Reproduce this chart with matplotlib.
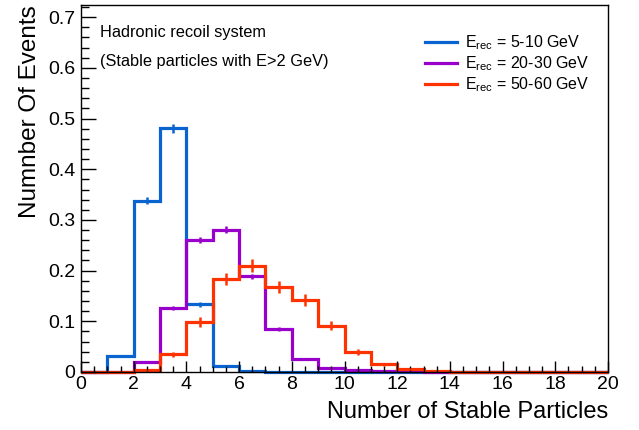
import numpy as np
import matplotlib
matplotlib.use("Agg")
import matplotlib.pyplot as plt
from matplotlib.ticker import MultipleLocator

plt.rcParams['font.family'] = ['Liberation Sans', 'DejaVu Sans']
plt.rcParams['mathtext.fontset'] = 'custom'
plt.rcParams['mathtext.rm'] = 'Liberation Sans'
plt.rcParams['mathtext.it'] = 'Liberation Sans:italic'

edges = np.arange(0, 21, 1)

blue_vals = [0, 0.032, 0.338, 0.481, 0.134, 0.011, 0.002, 0, 0, 0,
             0, 0, 0, 0, 0, 0, 0, 0, 0, 0]
blue_err = [0, 0.002, 0.007, 0.009, 0.005, 0.001, 0, 0, 0, 0,
            0, 0, 0, 0, 0, 0, 0, 0, 0, 0]

purple_vals = [0, 0, 0.019, 0.127, 0.260, 0.281, 0.189, 0.085, 0.026, 0.007,
               0.003, 0.001, 0.001, 0, 0, 0, 0, 0, 0, 0]
purple_err = [0, 0, 0.002, 0.004, 0.006, 0.007, 0.005, 0.004, 0.002, 0.001,
              0, 0, 0, 0, 0, 0, 0, 0, 0, 0]

red_vals = [0, 0, 0.003, 0.035, 0.099, 0.183, 0.210, 0.168, 0.142, 0.091,
            0.040, 0.015, 0.006, 0.002, 0, 0, 0, 0, 0, 0]
red_err = [0, 0, 0.001, 0.005, 0.010, 0.012, 0.013, 0.012, 0.011, 0.009,
           0.006, 0.003, 0.002, 0, 0, 0, 0, 0, 0, 0]

labels = [r"E$_{\mathrm{rec}}$ = 5-10 GeV",
          r"E$_{\mathrm{rec}}$ = 20-30 GeV",
          r"E$_{\mathrm{rec}}$ = 50-60 GeV"]
colors = ["#0a64d0", "#9900cc", "#ff3300"]

fig = plt.figure(figsize=(6.39, 4.30), dpi=100)
ax = fig.add_axes([0.1268, 0.1349, 0.8247, 0.8535])

centers = 0.5 * (edges[:-1] + edges[1:])
for vals, errs, c, lab in zip([blue_vals, purple_vals, red_vals],
                              [blue_err, purple_err, red_err], colors, labels):
    vals = np.array(vals); errs = np.array(errs)
    ax.stairs(vals, edges, color=c, lw=2.3, label=lab, baseline=0, clip_on=False)
    m = vals > 0
    ax.errorbar(centers[m], vals[m], yerr=errs[m], fmt='none', ecolor=c,
                elinewidth=1.8, capsize=0, clip_on=False)

ax.set_xlim(0, 20)
ax.set_ylim(0, 0.724)
ax.xaxis.set_major_locator(MultipleLocator(2))
ax.xaxis.set_minor_locator(MultipleLocator(0.5))
ax.yaxis.set_major_locator(MultipleLocator(0.1))
ax.yaxis.set_minor_locator(MultipleLocator(0.02))
ax.tick_params(which='both', direction='in', top=False, right=False, labelsize=14, width=1)
ax.tick_params(axis='y', which='major', length=11, pad=4)
ax.tick_params(axis='y', which='minor', length=5.5)
ax.tick_params(axis='x', which='major', length=8, pad=3)
ax.tick_params(axis='x', which='minor', length=4.5)
ax.set_yticks(np.arange(0, 0.71, 0.1))
ax.set_yticklabels(["0"] + ["%.1f" % v for v in np.arange(0.1, 0.71, 0.1)])
for s in ax.spines.values():
    s.set_linewidth(1.0)

ax.set_xlabel("Number of Stable Particles", fontsize=17, ha='right', x=1.0, labelpad=6)
ax.set_ylabel("Numnber Of Events", fontsize=17.5, ha='right', y=1.0, labelpad=5)

ax.text(0.036, 0.925, "Hadronic recoil system", transform=ax.transAxes,
        fontsize=11.8, va='center')
ax.text(0.036, 0.845, "(Stable particles with E>2 GeV)", transform=ax.transAxes,
        fontsize=11.8, va='center')

leg = ax.legend(loc='upper left', bbox_to_anchor=(0.64, 0.94), frameon=False,
                fontsize=11.5, handlelength=2.0, handletextpad=0.5,
                labelspacing=0.15, borderaxespad=0)

fig.savefig("out.png", dpi=100)
